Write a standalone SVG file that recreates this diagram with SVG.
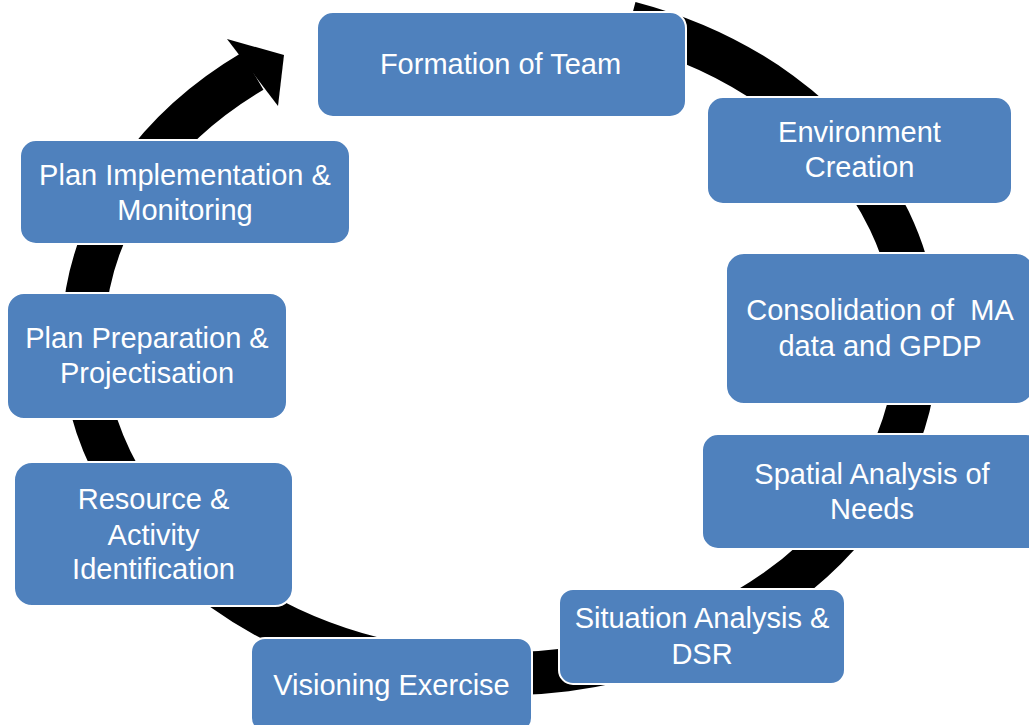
<svg xmlns="http://www.w3.org/2000/svg" width="1029" height="725" viewBox="0 0 1029 725">
<style>
.box{fill:#4F81BD;stroke:#FFFFFF;stroke-width:2}
.lbl{font-family:"Liberation Sans",Arial,sans-serif;font-size:29px;fill:#FFFFFF;text-anchor:middle;white-space:pre}
.ring{fill:none;stroke:#000000;stroke-width:43}
</style>
<rect width="1029" height="725" fill="#FFFFFF"/>
<g id="connectors">
<path class="ring" d="M 630 22.7 A 417 334 0 1 1 252.5 71.2"/>
<polygon points="227,39 284,55 278,106" fill="#000000"/>
</g>
<g id="node-formation">
<rect class="box" x="317" y="12" width="369" height="105" rx="16"/>
<text class="lbl" x="500.5" y="74">Formation of Team</text>
</g>
<g id="node-environment">
<rect class="box" x="707" y="97" width="305" height="107" rx="16"/>
<text class="lbl" x="859.5" y="142">Environment</text>
<text class="lbl" x="859.5" y="177">Creation</text>
</g>
<g id="node-consolidation">
<rect class="box" x="726" y="253" width="308" height="151" rx="18"/>
<text class="lbl" x="880" y="320">Consolidation of  MA</text>
<text class="lbl" x="880" y="356">data and GPDP</text>
</g>
<g id="node-spatial">
<rect class="box" x="702" y="434" width="340" height="115" rx="16"/>
<text class="lbl" x="872" y="484">Spatial Analysis of</text>
<text class="lbl" x="872" y="519">Needs</text>
</g>
<g id="node-situation">
<rect class="box" x="559" y="589" width="286" height="95" rx="14"/>
<text class="lbl" x="702" y="628">Situation Analysis &amp;</text>
<text class="lbl" x="702" y="664">DSR</text>
</g>
<g id="node-visioning">
<rect class="box" x="251" y="638" width="281" height="94" rx="14"/>
<text class="lbl" x="391.5" y="695">Visioning Exercise</text>
</g>
<g id="node-resource">
<rect class="box" x="14" y="462" width="279" height="144" rx="18"/>
<text class="lbl" x="153.5" y="509">Resource &amp;</text>
<text class="lbl" x="153.5" y="545">Activity</text>
<text class="lbl" x="153.5" y="579">Identification</text>
</g>
<g id="node-plan-preparation">
<rect class="box" x="7" y="293" width="280" height="126" rx="17"/>
<text class="lbl" x="147" y="348">Plan Preparation &amp;</text>
<text class="lbl" x="147" y="383">Projectisation</text>
</g>
<g id="node-plan-implementation">
<rect class="box" x="20" y="140" width="330" height="104" rx="16"/>
<text class="lbl" x="185" y="185">Plan Implementation &amp;</text>
<text class="lbl" x="185" y="220">Monitoring</text>
</g>
</svg>
